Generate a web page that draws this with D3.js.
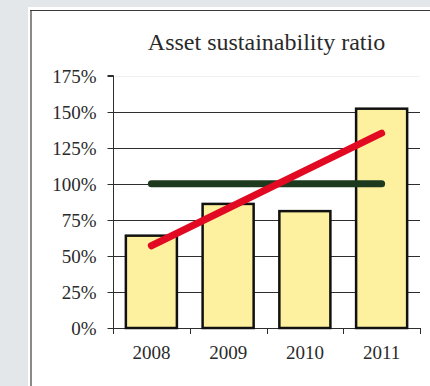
<!DOCTYPE html>
<html>
<head>
<meta charset="utf-8">
<script src="https://cdn.jsdelivr.net/npm/d3@7"></script>
<style>
  html, body { margin: 0; padding: 0; background: #e3e7ea; }
  svg { display: block; }
  text { font-family: "Liberation Serif", "Times New Roman", serif; fill: #2a2a2a; }
</style>
</head>
<body>
<svg id="chart" width="430" height="386"></svg>
<script>
// Chart data
const years = ["2008", "2009", "2010", "2011"];
const ratioValues = [64, 86, 81, 152];      // bars, percent
const targetValues = [100, 100, 100, 100];  // benchmark line
const trendValues = [57, 83, 109, 135];     // trend line
const yTicks = [0, 25, 50, 75, 100, 125, 150, 175];
const titleText = "Asset sustainability ratio";

const W = 430, H = 386;
const plot = { left: 113, right: 420, top: 75.5, bottom: 328 };

const svg = d3.select("#chart");

// White card with a border on its left and top edges
svg.append("rect").attr("x", 28).attr("y", 7).attr("width", W - 28).attr("height", H - 7).attr("fill", "#fff");
svg.append("line").attr("x1", 31).attr("x2", 31).attr("y1", 10).attr("y2", H)
  .attr("stroke", "#8a8a8a").attr("stroke-width", 2);
svg.append("line").attr("x1", 30).attr("x2", W).attr("y1", 10.5).attr("y2", 10.5)
  .attr("stroke", "#3a3a3a").attr("stroke-width", 1);

const x = d3.scaleBand().domain(years).range([plot.left, plot.right])
  .paddingInner(0.335).paddingOuter(0.1675);
const y = d3.scaleLinear().domain([0, 175]).range([plot.bottom, plot.top]);

// Gridlines
svg.append("g").selectAll("line").data(yTicks.filter(t => t > 0)).join("line")
  .attr("x1", plot.left).attr("x2", plot.right)
  .attr("y1", d => Math.round(y(d)) + 0.5).attr("y2", d => Math.round(y(d)) + 0.5)
  .attr("stroke", d => d === 175 ? "#f0f0f0" : "#2e2e2e").attr("stroke-width", 1);

// Y axis
const yAxis = svg.append("g").attr("transform", `translate(${plot.left + 0.5},0)`)
  .call(d3.axisLeft(y).tickValues(yTicks).tickSize(6).tickPadding(11).tickFormat(d => d + "%"));
yAxis.select(".domain").attr("stroke", "#2e2e2e").attr("d", `M-6,${y(175)}H0V${y(0)}`);
yAxis.selectAll(".tick line").attr("stroke", "#2e2e2e");
yAxis.selectAll(".tick").attr("transform", d => `translate(0,${Math.round(y(d)) + 0.5})`);
yAxis.selectAll("text").attr("font-size", 19).attr("dy", "0.34em")
  .style("font-family", "'Liberation Serif', serif").attr("fill", "#2a2a2a");

// X axis: baseline with tick marks at the band edges
const half = x.step() * x.paddingInner() / 2;
const edges = years.map(d => x(d) - half).concat([plot.right]);
svg.append("line").attr("x1", plot.left).attr("x2", plot.right)
  .attr("y1", y(0) + 0.5).attr("y2", y(0) + 0.5).attr("stroke", "#2e2e2e");
svg.append("g").selectAll("line").data(edges).join("line")
  .attr("x1", d => Math.round(d) + 0.5).attr("x2", d => Math.round(d) + 0.5)
  .attr("y1", y(0)).attr("y2", y(0) + 6).attr("stroke", "#2e2e2e");
svg.append("g").selectAll("text").data(years).join("text")
  .attr("x", d => x(d) + x.bandwidth() / 2).attr("y", 359)
  .attr("text-anchor", "middle").attr("font-size", 19).text(d => d);

// Bars
svg.append("g").selectAll("rect").data(ratioValues).join("rect")
  .attr("x", (d, i) => x(years[i]))
  .attr("y", d => y(d))
  .attr("width", x.bandwidth())
  .attr("height", d => y(0) - y(d))
  .attr("fill", "#fdf19f").attr("stroke", "#111").attr("stroke-width", 2.5);

// Lines
const line = d3.line().x((d, i) => x(years[i]) + x.bandwidth() / 2).y(d => y(d));
svg.append("path").datum(targetValues).attr("d", line)
  .attr("fill", "none").attr("stroke", "#1d3a1e").attr("stroke-width", 7).attr("stroke-linecap", "round");
svg.append("path").datum(trendValues).attr("d", line)
  .attr("fill", "none").attr("stroke", "#e20a22").attr("stroke-width", 7).attr("stroke-linecap", "round");

// Title
svg.append("text").attr("x", (plot.left + plot.right) / 2).attr("y", 50)
  .attr("text-anchor", "middle").attr("font-size", 24).attr("fill", "#1e1e1e").text(titleText);
</script>
</body>
</html>
